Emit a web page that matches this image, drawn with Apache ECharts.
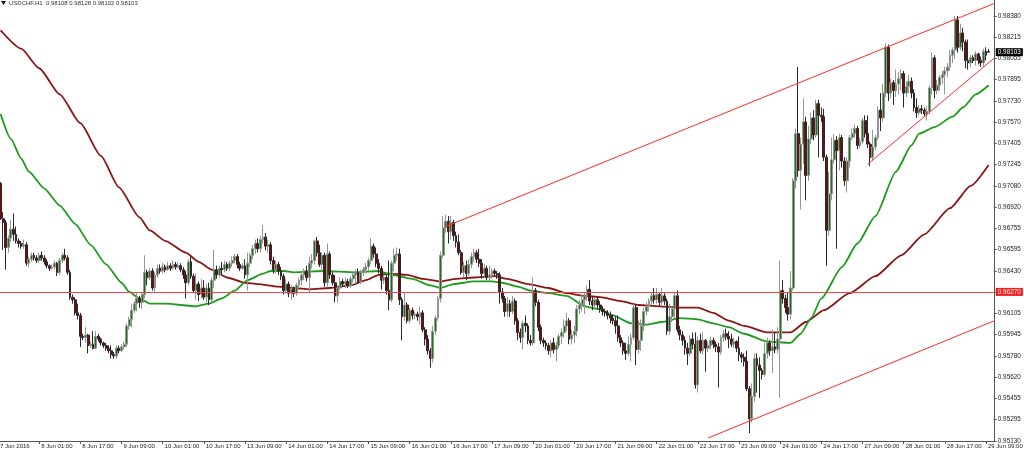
<!DOCTYPE html>
<html><head><meta charset="utf-8">
<script src="https://cdn.jsdelivr.net/npm/echarts@6/dist/echarts.min.js"></script>
<style>html,body{margin:0;padding:0;background:#fff;overflow:hidden}#c{width:1024px;height:453px}</style>
</head><body><div id="c"></div>
<script>
// ---- USDCHF H1 candles, 7 Jun 2016 09:00 .. 29 Jun 2016 10:00 ----
const opens = [
0.9705,0.9710,0.9683,0.9680,0.9661,0.9668,0.9675,0.9671,0.9666,0.9664,
0.9662,0.9663,0.9649,0.9652,0.9655,0.9653,0.9651,0.9655,0.9653,0.9650,
0.9647,0.9645,0.9646,0.9649,0.9642,0.9651,0.9655,0.9653,0.9642,0.9623,
0.9621,0.9611,0.9609,0.9593,0.9592,0.9594,0.9586,0.9587,0.9584,0.9593,
0.9591,0.9588,0.9586,0.9584,0.9582,0.9579,0.9578,0.9584,0.9582,0.9585,
0.9587,0.9601,0.9606,0.9613,0.9618,0.9622,0.9619,0.9625,0.9642,0.9638,
0.9643,0.9630,0.9640,0.9645,0.9643,0.9646,0.9644,0.9647,0.9645,0.9648,
0.9646,0.9647,0.9644,0.9640,0.9634,0.9650,0.9639,0.9628,0.9633,0.9625,
0.9630,0.9623,0.9630,0.9621,0.9636,0.9644,0.9640,0.9645,0.9644,0.9648,
0.9645,0.9649,0.9651,0.9654,0.9648,0.9645,0.9647,0.9640,0.9649,0.9655,
0.9660,0.9664,0.9660,0.9667,0.9669,0.9662,0.9663,0.9651,0.9644,0.9648,
0.9643,0.9639,0.9628,0.9633,0.9626,0.9629,0.9626,0.9632,0.9636,0.9640,
0.9643,0.9638,0.9649,0.9651,0.9666,0.9657,0.9648,0.9655,0.9634,0.9656,
0.9640,0.9634,0.9624,0.9630,0.9635,0.9633,0.9635,0.9632,0.9637,0.9640,
0.9642,0.9635,0.9642,0.9644,0.9646,0.9651,0.9662,0.9656,0.9649,0.9645,
0.9636,0.9638,0.9628,0.9621,0.9649,0.9655,0.9656,0.9621,0.9608,0.9617,
0.9605,0.9613,0.9609,0.9610,0.9608,0.9611,0.9598,0.9591,0.9582,0.9576,
0.9597,0.9607,0.9622,0.9655,0.9676,0.9681,0.9673,0.9680,0.9670,0.9665,
0.9657,0.9642,0.9647,0.9641,0.9648,0.9654,0.9657,0.9652,0.9649,0.9641,
0.9645,0.9638,0.9640,0.9643,0.9641,0.9640,0.9627,0.9622,0.9612,0.9618,
0.9612,0.9620,0.9605,0.9596,0.9592,0.9603,0.9601,0.9590,0.9588,0.9628,
0.9619,0.9600,0.9590,0.9588,0.9586,0.9582,0.9588,0.9583,0.9586,0.9593,
0.9596,0.9601,0.9605,0.9591,0.9594,0.9597,0.9614,0.9617,0.9621,0.9624,
0.9629,0.9620,0.9617,0.9621,0.9617,0.9614,0.9612,0.9611,0.9609,0.9607,
0.9605,0.9601,0.9592,0.9588,0.9582,0.9580,0.9587,0.9592,0.9615,0.9583,
0.9590,0.9601,0.9612,0.9616,0.9620,0.9624,0.9621,0.9625,0.9619,0.9624,
0.9620,0.9597,0.9608,0.9614,0.9624,0.9598,0.9594,0.9590,0.9584,0.9580,
0.9591,0.9587,0.9556,0.9590,0.9582,0.9590,0.9584,0.9586,0.9590,0.9587,
0.9585,0.9581,0.9592,0.9595,0.9593,0.9591,0.9587,0.9589,0.9584,0.9579,
0.9577,0.9574,0.9553,0.9530,0.9547,0.9576,0.9571,0.9567,0.9564,0.9580,
0.9588,0.9582,0.9585,0.9583,0.9591,0.9628,0.9622,0.9615,0.9610,0.9630,
0.9712,0.9748,0.9720,0.9740,0.9757,0.9716,0.9744,0.9760,0.9747,0.9771,
0.9762,0.9761,0.9730,0.9674,0.9702,0.9728,0.9743,0.9735,0.9745,0.9727,
0.9712,0.9727,0.9745,0.9748,0.9752,0.9739,0.9742,0.9758,0.9748,0.9740,
0.9730,0.9738,0.9745,0.9766,0.9760,0.9779,0.9814,0.9779,0.9787,0.9781,
0.9786,0.9790,0.9794,0.9779,0.9784,0.9788,0.9779,0.9768,0.9764,0.9767,
0.9766,0.9763,0.9765,0.9783,0.9806,0.9781,0.9785,0.9791,0.9793,0.9796,
0.9799,0.9808,0.9812,0.9835,0.9814,0.9825,0.9818,0.9804,0.9802,0.9806,
0.9804,0.9809,0.9804,0.9802,0.9811,0.98108
];
const highs = [
0.9711,0.9711,0.9688,0.9682,0.9670,0.9682,0.9687,0.9677,0.9668,0.9666,
0.9667,0.9665,0.9654,0.9657,0.9657,0.9655,0.9657,0.9658,0.9655,0.9652,
0.9648,0.9648,0.9651,0.9650,0.9653,0.9657,0.9660,0.9655,0.9644,0.9625,
0.9623,0.9618,0.9611,0.9595,0.9600,0.9595,0.9589,0.9597,0.9597,0.9595,
0.9592,0.9589,0.9588,0.9586,0.9586,0.9581,0.9586,0.9586,0.9587,0.9589,
0.9603,0.9608,0.9618,0.9620,0.9627,0.9624,0.9627,0.9655,0.9644,0.9645,
0.9645,0.9642,0.9648,0.9648,0.9649,0.9648,0.9650,0.9649,0.9651,0.9650,
0.9650,0.9649,0.9646,0.9643,0.9652,0.9654,0.9641,0.9641,0.9635,0.9637,
0.9636,0.9633,0.9634,0.9638,0.9659,0.9647,0.9647,0.9650,0.9651,0.9650,
0.9651,0.9654,0.9656,0.9656,0.9650,0.9649,0.9652,0.9657,0.9657,0.9663,
0.9667,0.9668,0.9670,0.9678,0.9672,0.9667,0.9665,0.9654,0.9651,0.9650,
0.9646,0.9641,0.9637,0.9635,0.9632,0.9631,0.9634,0.9638,0.9643,0.9645,
0.9647,0.9654,0.9656,0.9667,0.9669,0.9663,0.9657,0.9657,0.9664,0.9658,
0.9642,0.9640,0.9632,0.9638,0.9637,0.9638,0.9637,0.9639,0.9642,0.9644,
0.9645,0.9644,0.9646,0.9649,0.9653,0.9668,0.9664,0.9661,0.9652,0.9647,
0.9640,0.9640,0.9651,0.9651,0.9660,0.9661,0.9660,0.9623,0.9627,0.9619,
0.9615,0.9615,0.9612,0.9612,0.9616,0.9613,0.9600,0.9594,0.9584,0.9601,
0.9609,0.9624,0.9658,0.9685,0.9686,0.9685,0.9685,0.9682,0.9673,0.9671,
0.9659,0.9650,0.9651,0.9652,0.9657,0.9660,0.9659,0.9660,0.9652,0.9648,
0.9647,0.9647,0.9645,0.9645,0.9643,0.9642,0.9630,0.9624,0.9623,0.9621,
0.9624,0.9622,0.9607,0.9599,0.9605,0.9609,0.9603,0.9594,0.9638,0.9630,
0.9621,0.9602,0.9592,0.9590,0.9588,0.9590,0.9592,0.9589,0.9595,0.9599,
0.9606,0.9611,0.9607,0.9598,0.9601,0.9617,0.9621,0.9625,0.9627,0.9632,
0.9636,0.9624,0.9623,0.9623,0.9620,0.9616,0.9614,0.9613,0.9612,0.9610,
0.9608,0.9609,0.9594,0.9590,0.9588,0.9593,0.9595,0.9618,0.9618,0.9605,
0.9606,0.9615,0.9619,0.9622,0.9627,0.9630,0.9630,0.9627,0.9630,0.9626,
0.9622,0.9618,0.9616,0.9627,0.9628,0.9601,0.9597,0.9593,0.9588,0.9594,
0.9596,0.9596,0.9593,0.9595,0.9596,0.9591,0.9589,0.9593,0.9592,0.9589,
0.9588,0.9594,0.9598,0.9599,0.9597,0.9595,0.9592,0.9590,0.9593,0.9581,
0.9580,0.9582,0.9555,0.9557,0.9580,0.9580,0.9577,0.9569,0.9588,0.9592,
0.9590,0.9598,0.9596,0.9600,0.9651,0.9636,0.9625,0.9627,0.9643,0.9714,
0.9752,0.9799,0.9745,0.9775,0.9761,0.9754,0.9764,0.9766,0.9774,0.9774,
0.9768,0.9767,0.9732,0.9719,0.9745,0.9748,0.9746,0.9748,0.9747,0.9730,
0.9730,0.9747,0.9752,0.9755,0.9754,0.9745,0.9760,0.9762,0.9762,0.9742,
0.9751,0.9747,0.9769,0.9779,0.9786,0.9817,0.9816,0.9790,0.9789,0.9797,
0.9795,0.9797,0.9796,0.9788,0.9793,0.9791,0.9782,0.9775,0.9770,0.9770,
0.9768,0.9769,0.9785,0.9810,0.9808,0.9789,0.9793,0.9796,0.9799,0.9802,
0.9812,0.9814,0.9838,0.9838,0.9832,0.9829,0.9820,0.9820,0.9808,0.9808,
0.9811,0.9810,0.9807,0.9813,0.9814,0.98128
];
const lows = [
0.9703,0.9682,0.9659,0.9644,0.9657,0.9665,0.9666,0.9664,0.9661,0.9660,
0.9660,0.9647,0.9646,0.9650,0.9651,0.9649,0.9649,0.9651,0.9648,0.9645,
0.9643,0.9644,0.9644,0.9639,0.9640,0.9649,0.9651,0.9640,0.9621,0.9618,
0.9609,0.9606,0.9585,0.9590,0.9588,0.9580,0.9584,0.9583,0.9583,0.9589,
0.9586,0.9584,0.9582,0.9580,0.9576,0.9576,0.9576,0.9580,0.9581,0.9583,
0.9585,0.9598,0.9600,0.9611,0.9612,0.9615,0.9614,0.9622,0.9632,0.9636,
0.9628,0.9627,0.9638,0.9641,0.9641,0.9642,0.9643,0.9643,0.9644,0.9644,
0.9645,0.9642,0.9637,0.9622,0.9632,0.9637,0.9626,0.9621,0.9620,0.9622,
0.9621,0.9619,0.9617,0.9619,0.9630,0.9637,0.9638,0.9640,0.9642,0.9643,
0.9643,0.9646,0.9649,0.9645,0.9643,0.9644,0.9637,0.9628,0.9646,0.9652,
0.9656,0.9657,0.9657,0.9664,0.9659,0.9657,0.9648,0.9641,0.9641,0.9640,
0.9636,0.9625,0.9626,0.9623,0.9621,0.9623,0.9624,0.9630,0.9632,0.9636,
0.9635,0.9626,0.9645,0.9648,0.9654,0.9646,0.9642,0.9631,0.9631,0.9637,
0.9632,0.9619,0.9619,0.9628,0.9631,0.9630,0.9630,0.9630,0.9634,0.9633,
0.9633,0.9633,0.9639,0.9641,0.9643,0.9648,0.9653,0.9646,0.9641,0.9629,
0.9633,0.9625,0.9613,0.9619,0.9643,0.9651,0.9617,0.9590,0.9605,0.9603,
0.9603,0.9606,0.9606,0.9605,0.9602,0.9596,0.9586,0.9579,0.9569,0.9573,
0.9594,0.9605,0.9619,0.9653,0.9672,0.9664,0.9667,0.9666,0.9661,0.9655,
0.9640,0.9638,0.9636,0.9639,0.9645,0.9650,0.9649,0.9646,0.9637,0.9638,
0.9636,0.9635,0.9637,0.9639,0.9637,0.9618,0.9619,0.9608,0.9608,0.9608,
0.9610,0.9602,0.9590,0.9588,0.9583,0.9596,0.9587,0.9586,0.9586,0.9616,
0.9597,0.9587,0.9585,0.9583,0.9579,0.9577,0.9580,0.9574,0.9584,0.9587,
0.9592,0.9597,0.9587,0.9587,0.9588,0.9593,0.9610,0.9612,0.9610,0.9620,
0.9617,0.9613,0.9615,0.9614,0.9611,0.9609,0.9608,0.9606,0.9603,0.9602,
0.9595,0.9589,0.9585,0.9579,0.9575,0.9578,0.9574,0.9590,0.9571,0.9580,
0.9582,0.9597,0.9609,0.9612,0.9617,0.9618,0.9618,0.9616,0.9617,0.9617,
0.9594,0.9594,0.9604,0.9606,0.9596,0.9590,0.9586,0.9579,0.9571,0.9578,
0.9583,0.9553,0.9550,0.9580,0.9579,0.9566,0.9581,0.9583,0.9584,0.9581,
0.9554,0.9579,0.9589,0.9590,0.9584,0.9585,0.9584,0.9581,0.9574,0.9573,
0.9570,0.9551,0.9519,0.9527,0.9543,0.9550,0.9546,0.9560,0.9562,0.9576,
0.9578,0.9565,0.9580,0.9580,0.9546,0.9618,0.9611,0.9605,0.9606,0.9628,
0.9706,0.9715,0.9690,0.9725,0.9697,0.9712,0.9740,0.9743,0.9745,0.9730,
0.9757,0.9727,0.9647,0.9670,0.9697,0.9725,0.9660,0.9720,0.9722,0.9708,
0.9703,0.9722,0.9743,0.9745,0.9736,0.9737,0.9740,0.9745,0.9737,0.9723,
0.9727,0.9735,0.9743,0.9750,0.9757,0.9776,0.9773,0.9775,0.9770,0.9776,
0.9778,0.9781,0.9768,0.9776,0.9779,0.9775,0.9765,0.9760,0.9762,0.9763,
0.9761,0.9758,0.9763,0.9778,0.9775,0.9778,0.9781,0.9786,0.9778,0.9791,
0.9796,0.9802,0.9805,0.9810,0.9812,0.9811,0.9798,0.9797,0.9799,0.9802,
0.9800,0.9801,0.9799,0.9799,0.9804,0.98102
];
const closes = [
0.9710,0.9683,0.9680,0.9661,0.9668,0.9675,0.9671,0.9666,0.9664,0.9662,
0.9663,0.9649,0.9652,0.9655,0.9653,0.9651,0.9655,0.9653,0.9650,0.9647,
0.9645,0.9646,0.9649,0.9642,0.9651,0.9655,0.9653,0.9642,0.9623,0.9621,
0.9611,0.9609,0.9593,0.9592,0.9594,0.9586,0.9587,0.9584,0.9593,0.9591,
0.9588,0.9586,0.9584,0.9582,0.9579,0.9578,0.9584,0.9582,0.9585,0.9587,
0.9601,0.9606,0.9613,0.9618,0.9622,0.9619,0.9625,0.9642,0.9638,0.9643,
0.9630,0.9640,0.9645,0.9643,0.9646,0.9644,0.9647,0.9645,0.9648,0.9646,
0.9647,0.9644,0.9640,0.9634,0.9650,0.9639,0.9628,0.9633,0.9625,0.9630,
0.9623,0.9630,0.9621,0.9636,0.9644,0.9640,0.9645,0.9644,0.9648,0.9645,
0.9649,0.9651,0.9654,0.9648,0.9645,0.9647,0.9640,0.9649,0.9655,0.9660,
0.9664,0.9660,0.9667,0.9669,0.9662,0.9663,0.9651,0.9644,0.9648,0.9643,
0.9639,0.9628,0.9633,0.9626,0.9629,0.9626,0.9632,0.9636,0.9640,0.9643,
0.9638,0.9649,0.9651,0.9666,0.9657,0.9648,0.9655,0.9634,0.9656,0.9640,
0.9634,0.9624,0.9630,0.9635,0.9633,0.9635,0.9632,0.9637,0.9640,0.9642,
0.9635,0.9642,0.9644,0.9646,0.9651,0.9662,0.9656,0.9649,0.9645,0.9636,
0.9638,0.9628,0.9621,0.9649,0.9655,0.9656,0.9621,0.9608,0.9617,0.9605,
0.9613,0.9609,0.9610,0.9608,0.9611,0.9598,0.9591,0.9582,0.9576,0.9597,
0.9607,0.9622,0.9655,0.9676,0.9681,0.9673,0.9680,0.9670,0.9665,0.9657,
0.9642,0.9647,0.9641,0.9648,0.9654,0.9657,0.9652,0.9649,0.9641,0.9645,
0.9638,0.9640,0.9643,0.9641,0.9640,0.9627,0.9622,0.9612,0.9618,0.9612,
0.9620,0.9605,0.9596,0.9592,0.9603,0.9601,0.9590,0.9588,0.9628,0.9619,
0.9600,0.9590,0.9588,0.9586,0.9582,0.9588,0.9583,0.9586,0.9593,0.9596,
0.9601,0.9605,0.9591,0.9594,0.9597,0.9614,0.9617,0.9621,0.9624,0.9629,
0.9620,0.9617,0.9621,0.9617,0.9614,0.9612,0.9611,0.9609,0.9607,0.9605,
0.9601,0.9592,0.9588,0.9582,0.9580,0.9587,0.9592,0.9615,0.9583,0.9590,
0.9601,0.9612,0.9616,0.9620,0.9624,0.9621,0.9625,0.9619,0.9624,0.9620,
0.9597,0.9608,0.9614,0.9624,0.9598,0.9594,0.9590,0.9584,0.9580,0.9591,
0.9587,0.9556,0.9590,0.9582,0.9590,0.9584,0.9586,0.9590,0.9587,0.9585,
0.9581,0.9592,0.9595,0.9593,0.9591,0.9587,0.9589,0.9584,0.9579,0.9577,
0.9574,0.9553,0.9530,0.9547,0.9576,0.9571,0.9567,0.9564,0.9580,0.9588,
0.9582,0.9585,0.9583,0.9591,0.9628,0.9622,0.9615,0.9610,0.9630,0.9712,
0.9748,0.9720,0.9740,0.9757,0.9716,0.9744,0.9760,0.9747,0.9771,0.9762,
0.9761,0.9730,0.9674,0.9702,0.9728,0.9743,0.9735,0.9745,0.9727,0.9712,
0.9727,0.9745,0.9748,0.9752,0.9739,0.9742,0.9758,0.9748,0.9740,0.9730,
0.9738,0.9745,0.9766,0.9760,0.9779,0.9814,0.9779,0.9787,0.9781,0.9786,
0.9790,0.9794,0.9779,0.9784,0.9788,0.9779,0.9768,0.9764,0.9767,0.9766,
0.9763,0.9765,0.9783,0.9806,0.9781,0.9785,0.9791,0.9793,0.9796,0.9799,
0.9808,0.9812,0.9835,0.9814,0.9825,0.9818,0.9804,0.9802,0.9806,0.9804,
0.9809,0.9804,0.9802,0.9811,0.9808,0.98103
];

// x-axis tick labels (one every 16 bars, starting at bar 0)
const xTickLabels = ['7 Jun 2016','8 Jun 01:00','8 Jun 17:00','9 Jun 09:00','10 Jun 01:00','10 Jun 17:00',
  '13 Jun 09:00','14 Jun 01:00','14 Jun 17:00','15 Jun 09:00','16 Jun 01:00','16 Jun 17:00','17 Jun 09:00',
  '20 Jun 01:00','20 Jun 17:00','21 Jun 09:00','22 Jun 01:00','22 Jun 17:00','23 Jun 09:00','24 Jun 01:00',
  '24 Jun 17:00','27 Jun 09:00','28 Jun 01:00','28 Jun 17:00','29 Jun 09:00'];
const xTickStep = 16;

// price scale tick labels
const yTickValues = [0.98380,0.98215,0.98055,0.97895,0.97730,0.97570,0.97405,0.97245,0.97080,0.96920,
  0.96755,0.96595,0.96430,0.96270,0.96105,0.95945,0.95780,0.95620,0.95455,0.95295,0.95130];

// moving averages (sampled at bars)
const maFastBars   = [1,5,9,12,18,24,30,36,42,48,51,55,59,65,77,82,87,92,97,103,106,111,115,126,139,148,153,161,168,172,177,185,192,196,202,207,214,221,228,233,239,246,252,258,265,272,278,284,290,299,308,312,316,320,328,334,341,349,355,358,364,371,375,380,385];
const maFastValues = [0.9763,0.9744,0.9729,0.9719,0.9706,0.9693,0.9679,0.9663,0.9648,0.9634,0.9627,0.9622,0.9618,0.9618,0.9616,0.9618,0.9622,0.9628,0.9636,0.9641,0.9643,0.9643,0.9642,0.9643,0.9642,0.9643,0.9640,0.9637,0.9632,0.9630,0.9633,0.9635,0.9635,0.9634,0.9631,0.9628,0.9626,0.9624,0.9616,0.9614,0.9609,0.9603,0.9602,0.9604,0.9607,0.9606,0.9603,0.9600,0.9595,0.9589,0.9588,0.9595,0.9607,0.9622,0.9646,0.9664,0.9685,0.9719,0.9739,0.9748,0.9753,0.9761,0.9768,0.9778,0.9785];
const maSlowBars   = [1,9,16,24,32,40,47,55,59,65,73,78,83,89,96,101,109,115,121,129,137,143,148,152,159,165,172,178,185,193,198,206,214,221,228,234,242,249,257,265,272,278,284,290,299,308,314,321,331,341,351,360,370,378,385];
const maSlowValues = [0.9827,0.9813,0.9798,0.9778,0.9756,0.9731,0.9707,0.9684,0.9674,0.9666,0.9657,0.9650,0.9644,0.9638,0.9634,0.9633,0.9631,0.9630,0.9629,0.9630,0.9632,0.9636,0.9640,0.9641,0.9640,0.9637,0.9635,0.9637,0.9638,0.9639,0.9637,0.9633,0.9630,0.9626,0.9624,0.9623,0.9620,0.9617,0.9616,0.9615,0.9615,0.9611,0.9605,0.9601,0.9596,0.9596,0.9604,0.9613,0.9626,0.9639,0.9655,0.9671,0.9691,0.9708,0.9724];

// drawn objects: trend lines [bar1, price1, bar2, price2], horizontal level, last price
const trendLines = [[174,0.96770,387,0.98474],[276,0.95153,387,0.96048],[338,0.97246,387,0.98055]];
const levelLine = 0.96270;
const lastPrice = 0.98103;
const titleText = 'USDCHF,H1  0.98108 0.98128 0.98102 0.98103';
const barSlots = 388; // 386 bars + 2 empty slots at the right edge

const FONT = '"Liberation Sans", Arial, sans-serif';
const lastSlot = barSlots - 1;
const categories = Array.from({length: barSlots}, (_, i) => String(i));
const candleData = opens.map((o, i) => [o, closes[i], lows[i], highs[i]]);
const fastData = maFastBars.map((b, i) => [b, maFastValues[i]]);
const slowData = maSlowBars.map((b, i) => [b, maSlowValues[i]]);

const markData = trendLines.map(t => [
  {coord: [t[0], t[1]], lineStyle: {color: '#ff2a2a', width: 1, type: 'solid'}}, {coord: [t[2], t[3]]}
]);
markData.push([
  {coord: [0, levelLine], lineStyle: {color: '#ee4646', width: 1, type: 'solid'},
   label: {show: true, position: 'end', distance: 2, formatter: levelLine.toFixed(5),
     color: '#fff', backgroundColor: '#f01e1e', padding: [1, 2, 1, 2], fontSize: 6.4, fontFamily: FONT}},
  {coord: [lastSlot, levelLine]}
]);
markData.push([
  {coord: [lastSlot - 1, lastPrice], lineStyle: {color: 'rgba(0,0,0,0)', width: 1, opacity: 1},
   label: {show: true, position: 'end', distance: 2, formatter: lastPrice.toFixed(5),
     color: '#fff', backgroundColor: '#000', padding: [1, 2, 1, 2], fontSize: 6.4, fontFamily: FONT}},
  {coord: [lastSlot, lastPrice]}
]);

const chart = echarts.init(document.getElementById('c'), null, {renderer: 'canvas'});
chart.setOption({
  animation: false,
  backgroundColor: '#ffffff',
  title: {
    text: titleText, left: 9, top: 0, padding: 0,
    textStyle: {fontSize: 6, fontWeight: 'normal', color: '#333', fontFamily: FONT}
  },
  graphic: [{
    type: 'polygon', left: 1, top: 1, silent: true,
    shape: {points: [[0, 0], [5, 0], [2.5, 4]]},
    style: {fill: '#111'}
  }],
  grid: {left: -2, top: 0, width: 995.75, height: 441, containLabel: false, outerBoundsMode: 'none'},
  xAxis: {
    type: 'category', data: categories, boundaryGap: false,
    axisLine: {show: true, lineStyle: {color: '#555', width: 1}},
    axisTick: {show: true, length: 3, interval: (i) => i % xTickStep === 0, lineStyle: {color: '#555'}},
    axisLabel: {
      show: true, interval: (i) => i % xTickStep === 0 && i / xTickStep < xTickLabels.length,
      formatter: (v, i) => xTickLabels[i / xTickStep] || '',
      align: 'left', margin: 2, padding: [0, 0, 0, 2],
      fontSize: 6, color: '#222', fontFamily: FONT
    },
    splitLine: {show: false}
  },
  yAxis: {
    type: 'value', position: 'right', min: 0.95130, max: 0.98502, scale: true,
    axisLine: {show: true, lineStyle: {color: '#555', width: 1}},
    axisTick: {show: true, length: 3, customValues: yTickValues, lineStyle: {color: '#555'}},
    axisLabel: {
      show: true, customValues: yTickValues.filter(v => v !== levelLine),
      formatter: (v) => v.toFixed(5), margin: 4,
      fontSize: 6.4, color: '#222', fontFamily: FONT
    },
    splitLine: {show: false}
  },
  series: [
    {
      type: 'line', name: 'MA slow', data: slowData, showSymbol: false, symbol: 'none',
      smooth: 0.2, smoothMonotone: 'x', connectNulls: true, silent: true,
      lineStyle: {color: '#8b1414', width: 1.8}, z: 2
    },
    {
      type: 'line', name: 'MA fast', data: fastData, showSymbol: false, symbol: 'none',
      smooth: 0.2, smoothMonotone: 'x', connectNulls: true, silent: true,
      lineStyle: {color: '#1c9c1c', width: 1.8}, z: 2
    },
    {
      type: 'candlestick', name: 'USDCHF,H1', data: candleData, barWidth: 2.4, z: 3,
      itemStyle: {color: '#167516', color0: '#8b0000', borderColor: '#959595', borderColor0: '#2a2a2a', borderWidth: 1},
      markLine: {
        silent: true, symbol: ['none', 'none'], animation: false,
        label: {show: false},
        data: markData
      }
    }
  ]
});
</script>
</body></html>
